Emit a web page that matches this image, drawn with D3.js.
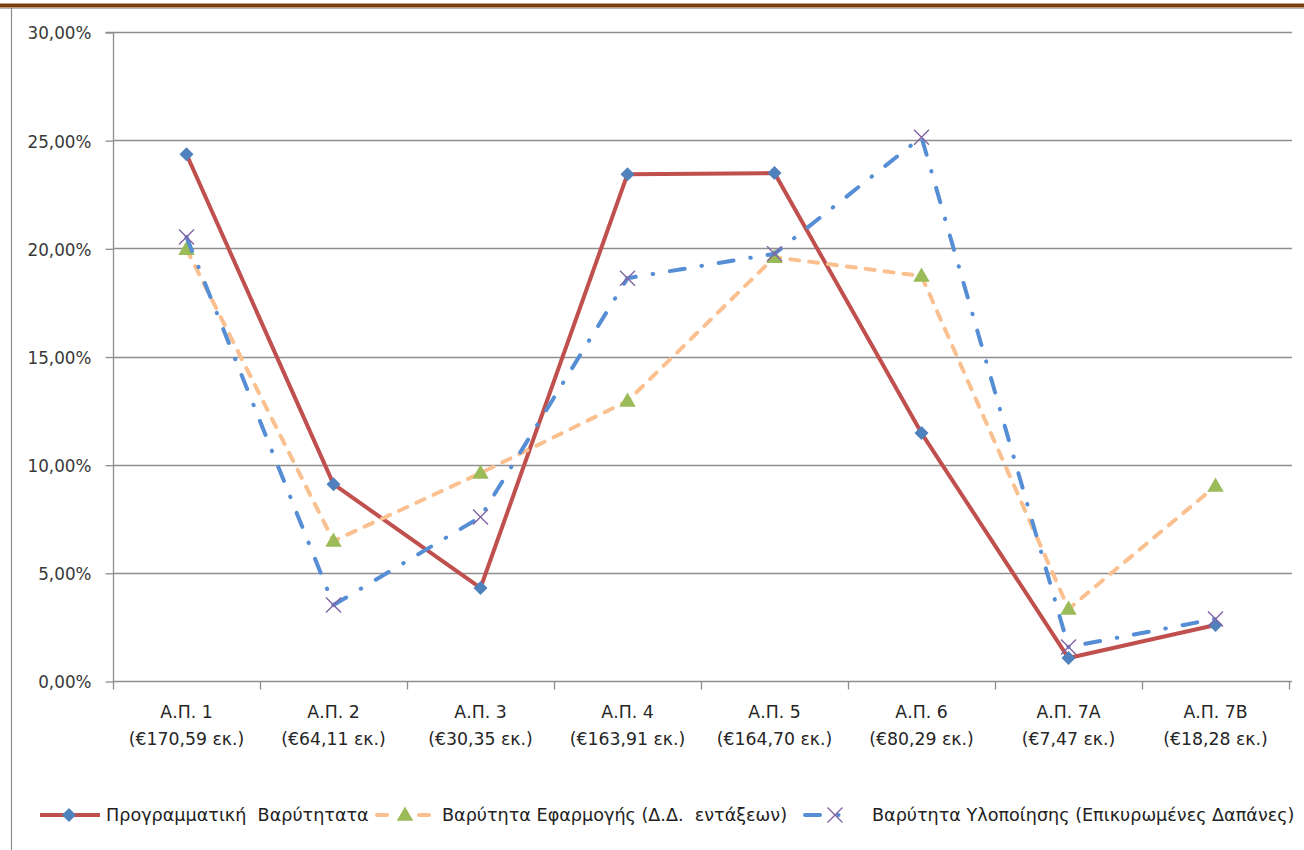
<!DOCTYPE html>
<html>
<head>
<meta charset="utf-8">
<script src="https://cdn.jsdelivr.net/npm/d3@7"></script>
<style>
  html, body { margin: 0; padding: 0; background: #ffffff; }
  svg { display: block; }
  text { font-family: "DejaVu Sans", Verdana, sans-serif; }
</style>
</head>
<body>
<svg id="chart" width="1304" height="850"></svg>
<script>
// ---- data ----
const categories = ["Α.Π. 1", "Α.Π. 2", "Α.Π. 3", "Α.Π. 4", "Α.Π. 5", "Α.Π. 6", "Α.Π. 7Α", "Α.Π. 7Β"];
const categoryAmounts = ["(€170,59 εκ.)", "(€64,11 εκ.)", "(€30,35 εκ.)", "(€163,91 εκ.)", "(€164,70 εκ.)", "(€80,29 εκ.)", "(€7,47 εκ.)", "(€18,28 εκ.)"];
const seriesNames = ["Προγραμματική  Βαρύτητατα", "Βαρύτητα Εφαρμογής (Δ.Δ.  εντάξεων)", "Βαρύτητα Υλοποίησης (Επικυρωμένες Δαπάνες)"];
const programmatic = [24.35, 9.10, 4.30, 23.43, 23.48, 11.46, 1.06, 2.59];
const application = [19.96, 6.47, 9.61, 12.94, 19.59, 18.72, 3.33, 9.01];
const implementation = [20.52, 3.51, 7.58, 18.62, 19.75, 25.14, 1.57, 2.87];
const yTicks = [0, 5, 10, 15, 20, 25, 30];

// ---- layout ----
const svg = d3.select("#chart");
const plotLeft = 113, plotRight = 1289, plotTop = 32, plotBottom = 681;

const x = d3.scaleBand().domain(categories).range([plotLeft, plotRight]).paddingInner(0).paddingOuter(0);
const y = d3.scaleLinear().domain([0, 30]).range([plotBottom, plotTop]);
const cx = d => x(d) + x.bandwidth() / 2;

// frame: brown top bar, gray borders
svg.append("rect").attr("x", 0).attr("y", 3.5).attr("width", 1304).attr("height", 4).attr("fill", "#7b3d0c");
svg.append("line").attr("x1", 0).attr("x2", 1304).attr("y1", 8.5).attr("y2", 8.5).attr("stroke", "#b4b4b4").attr("stroke-width", 1);
svg.append("line").attr("x1", 11.5).attr("x2", 11.5).attr("y1", 8).attr("y2", 850).attr("stroke", "#8c8c8c").attr("stroke-width", 1.2);

// gridlines
svg.append("g").selectAll("line").data(yTicks.filter(t => t > 0)).join("line")
  .attr("x1", plotLeft).attr("x2", plotRight + 3)
  .attr("y1", d => Math.round(y(d)) + 0.5).attr("y2", d => Math.round(y(d)) + 0.5)
  .attr("stroke", "#8e8e8e").attr("stroke-width", 1.3);

// y axis
const yAxis = d3.axisLeft(y).tickValues(yTicks).tickSize(8).tickPadding(14)
  .tickFormat(d => d3.format(".2f")(d).replace(".", ",") + "%");
const gy = svg.append("g").attr("transform", `translate(${plotLeft + 0.5},0.5)`).call(yAxis);
gy.select(".domain").attr("stroke", "#8e8e8e").attr("stroke-width", 1.3).attr("d", `M-8,${plotTop}H0V${plotBottom}`);
gy.selectAll(".tick line").attr("stroke", "#8e8e8e").attr("stroke-width", 1.3);
gy.selectAll(".tick text").attr("fill", "#383838").style("font-size", "16.8px").attr("dy", "0.38em");

// x axis
const xAxis = d3.axisBottom(x).tickSize(0).tickFormat("");
const gx = svg.append("g").attr("transform", `translate(0,${plotBottom + 0.5})`).call(xAxis);
gx.select(".domain").attr("stroke", "#8e8e8e").attr("stroke-width", 1.3).attr("d", `M${plotLeft},0H${plotRight + 3}`);
const bounds = categories.map(c => x(c)).concat([x(categories[categories.length - 1]) + x.bandwidth()]);
gx.append("g").selectAll("line").data(bounds).join("line")
  .attr("x1", d => Math.round(d) + 0.5).attr("x2", d => Math.round(d) + 0.5)
  .attr("y1", 0).attr("y2", 8).attr("stroke", "#8e8e8e").attr("stroke-width", 1.3);

const xl = svg.append("g").selectAll("text").data(categories).join("text")
  .attr("text-anchor", "middle").attr("fill", "#262626").style("font-size", "17.3px")
  .attr("transform", d => `translate(${cx(d)},0)`);
xl.append("tspan").attr("x", 0).attr("y", 718).text(d => d);
xl.append("tspan").attr("x", 0).attr("y", 745).text((d, i) => categoryAmounts[i]);

// series
const series = [
  { name: seriesNames[0], values: programmatic, stroke: "#c0504d", width: 4, dash: null, marker: "diamond" },
  { name: seriesNames[1], values: application, stroke: "#fac08f", width: 4, dash: "9,10", marker: "triangle" },
  { name: seriesNames[2], values: implementation, stroke: "#558ed5", width: 4, dash: "15,17,0.5,17", marker: "x" }
];

const line = d3.line().x((d, i) => cx(categories[i])).y(d => y(d));

function drawMarker(g, type, px, py) {
  if (type === "diamond") {
    g.append("path").attr("d", d3.symbol().type(d3.symbolSquare).size(98)())
      .attr("transform", `translate(${px},${py}) rotate(45)`).attr("fill", "#4f81bd");
  } else if (type === "triangle") {
    g.append("path").attr("d", d3.symbol().type(d3.symbolTriangle).size(118)())
      .attr("transform", `translate(${px},${py + 1})`).attr("fill", "#9bbb59");
  } else {
    const s = 7.5;
    g.append("path").attr("d", `M${px - s},${py - s}L${px + s},${py + s}M${px - s},${py + s}L${px + s},${py - s}`)
      .attr("stroke", "#8064a2").attr("stroke-width", 1.4).attr("fill", "none");
  }
}

series.forEach(s => {
  const g = svg.append("g");
  const p = g.append("path").datum(s.values).attr("d", line)
    .attr("fill", "none").attr("stroke", s.stroke).attr("stroke-width", s.width)
    .attr("stroke-linejoin", "round").attr("stroke-linecap", s.dash ? "round" : "butt");
  if (s.dash) p.attr("stroke-dasharray", s.dash);
  s.values.forEach((v, i) => drawMarker(g, s.marker, cx(categories[i]), y(v)));
});

// legend
const legendY = 815;
const legendItems = [
  { x1: 40, x2: 100, mx: 69, tx: 106, dash: null },
  { x1: 377, x2: 430, mx: 405, tx: 442, dash: "10,32" },
  { x1: 805, x2: 845, mx: 835, tx: 872, dash: "15,18,0.5,30" }
];
const lg = svg.append("g");
series.forEach((s, i) => {
  const L = legendItems[i];
  const g = lg.append("g");
  const p = g.append("line").attr("x1", L.x1).attr("x2", L.x2).attr("y1", legendY).attr("y2", legendY)
    .attr("stroke", s.stroke).attr("stroke-width", s.width).attr("stroke-linecap", s.dash ? "round" : "butt");
  if (L.dash) p.attr("stroke-dasharray", L.dash);
  drawMarker(g, s.marker, L.mx, legendY);
  g.append("text").attr("x", L.tx).attr("y", legendY).attr("dy", "0.36em")
    .attr("fill", "#222222").style("font-size", "17.6px").style("white-space", "pre").text(s.name);
});
</script>
</body>
</html>
